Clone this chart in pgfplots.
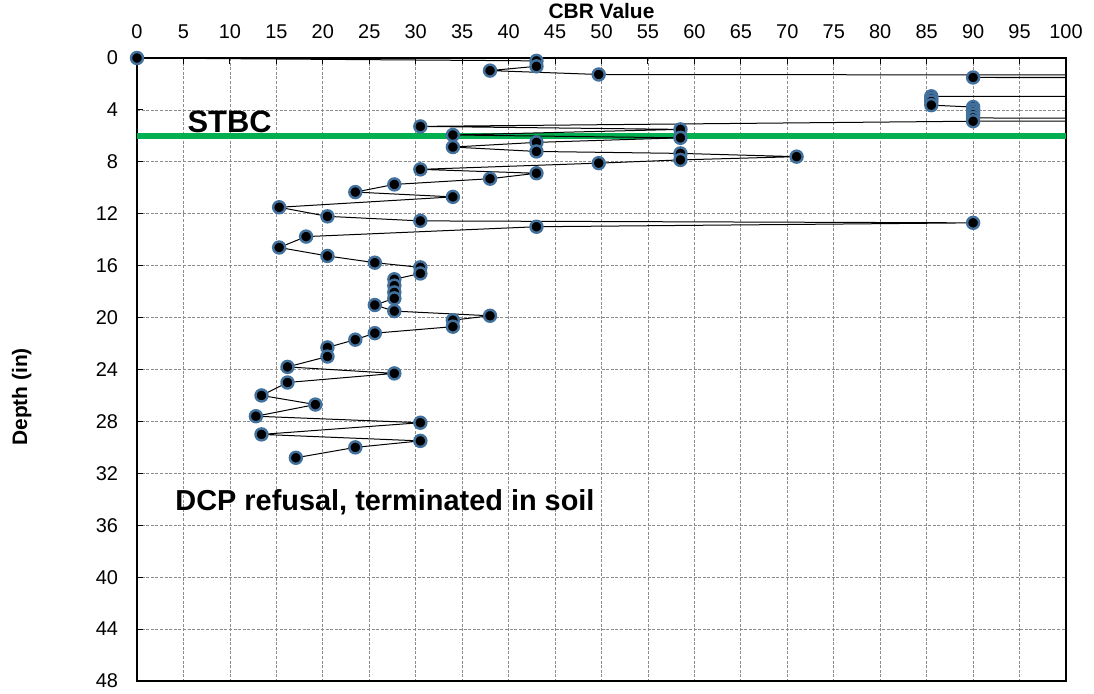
\documentclass[border=0pt]{standalone}
\usepackage{fontspec}
\setmainfont{Liberation Sans}
\usepackage{pgfplots}
\pgfplotsset{compat=1.18}
\usepackage{pgfplotstable}
\definecolor{mkblue}{HTML}{41719C}
\definecolor{stbcgreen}{HTML}{00B050}
\pgfplotstableread{
x y
0 0
43 0.22
43 0.64
38 0.97
49.7 1.27
130 1.33
130 1.49
90 1.50
130 1.53
130 2.99
85.5 2.95
85.5 3.15
85.5 3.35
85.5 3.63
90 3.78
90 3.98
90 4.18
90 4.38
90 4.62
130 4.66
130 4.87
90 4.87
30.5 5.27
58.5 5.5
34 5.93
58.5 6.15
43 6.5
34 6.86
43 7.2
58.5 7.35
71 7.6
58.5 7.85
49.7 8.1
30.5 8.58
43 8.88
38 9.3
27.7 9.74
23.5 10.33
34 10.7
15.3 11.5
20.5 12.2
30.5 12.55
90 12.7
43 13.0
18.2 13.76
15.3 14.6
20.5 15.25
25.6 15.77
30.5 16.13
30.5 16.6
27.7 17.05
27.7 17.54
27.7 18.06
27.7 18.52
25.6 19.03
27.7 19.5
38 19.86
34 20.2
34 20.7
25.6 21.2
23.5 21.7
20.5 22.3
20.5 23.0
16.2 23.8
27.7 24.3
16.2 25.0
13.4 26.0
19.2 26.7
12.8 27.6
30.5 28.1
13.4 29.0
30.5 29.5
23.5 30.0
17.1 30.8
}\dcpdata
\begin{document}
\begin{tikzpicture}
\useasboundingbox (0bp,0bp) rectangle (547bp,347bp);
\begin{axis}[
  at={(68.5bp,6.5bp)}, anchor=south west,
  scale only axis,
  width=464.5bp, height=311.5bp,
  xmin=0, xmax=100, ymin=0, ymax=48,
  y dir=reverse,
  xtick={0,5,...,100},
  ytick={0,4,...,48},
  xticklabel pos=upper, xtick pos=upper,
  ytick pos=left,
  tick align=inside,
  major tick length=3bp,
  tick style={black, line width=0.5bp},
  grid=major,
  major grid style={gray!90, line width=0.4bp, dash pattern=on 1.5bp off 0.8bp},
  axis line style={black, line width=0.6bp},
  /pgf/number format/assume math mode=true,
  ticklabel style={font=\fontsize{10}{12}\selectfont},
  xticklabel style={yshift=6bp},
  yticklabel style={xshift=-6bp},
  xlabel={\textbf{CBR Value}},
  xlabel style={font=\fontsize{10.5}{12}\selectfont, at={(axis description cs:0.5,1.075)}, anchor=center},
  ylabel={\textbf{Depth (in)}},
  ylabel style={font=\fontsize{10.5}{12}\selectfont, at={(axis description cs:-0.124,0.456)}, anchor=center},
]
\addplot[stbcgreen, line width=3bp, forget plot] coordinates {(0,6) (100,6)};
\addplot[black, line width=0.5bp, mark=*, mark size=3bp,
  mark options={fill=black, draw=mkblue, line width=1.2bp}] table[x=x,y=y] {\dcpdata};
\node[anchor=base west, font=\bfseries\fontsize{15.5}{18}\selectfont, inner sep=0pt] at (axis cs:5.4,5.75) {STBC};
\node[anchor=base west, font=\bfseries\fontsize{14.5}{17}\selectfont, inner sep=0pt] at (axis cs:4.1,34.85) {DCP refusal, terminated in soil};
\end{axis}
\end{tikzpicture}
\end{document}
